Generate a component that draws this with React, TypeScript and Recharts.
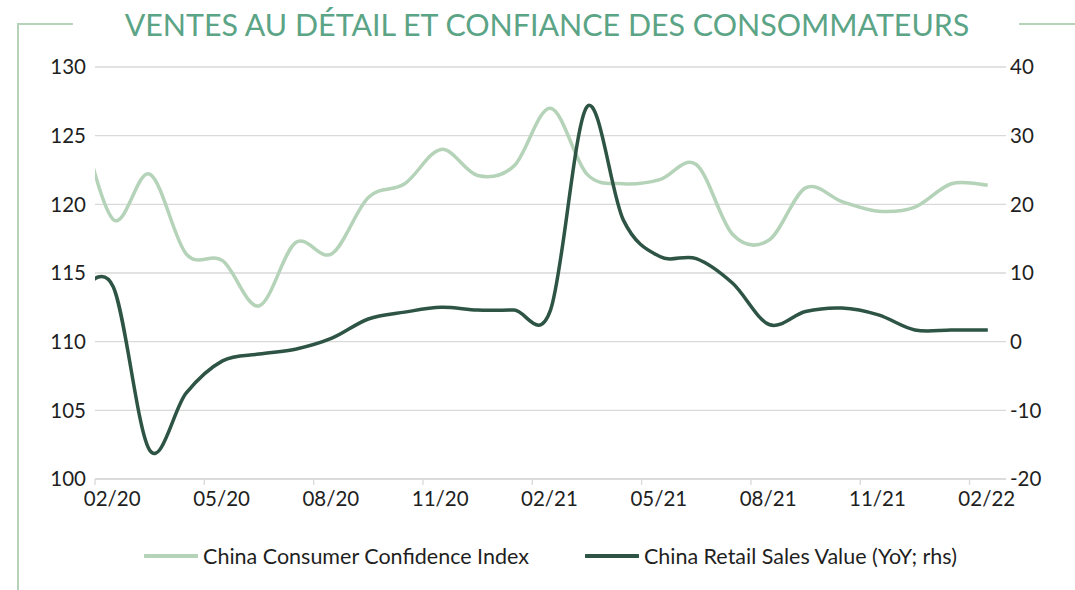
import React from 'react';
import { LineChart, Line, XAxis, YAxis, CartesianGrid, Legend } from 'recharts';

// monthly values, 01/20 .. 02/22 (01/20 sits just left of the plot and is clipped)
const months = [
  '01/20', '02/20', '03/20', '04/20', '05/20', '06/20', '07/20', '08/20', '09/20', '10/20', '11/20', '12/20',
  '01/21', '02/21', '03/21', '04/21', '05/21', '06/21', '07/21', '08/21', '09/21', '10/21', '11/21', '12/21',
  '01/22', '02/22',
];
const confidence = [
  127.1, 118.9, 122.2, 116.4, 115.9, 112.6, 117.2, 116.4, 120.5, 121.5, 124.0, 122.1,
  122.8, 127.0, 122.2, 121.5, 121.8, 122.9, 117.8, 117.4, 121.2, 120.2, 119.5, 119.8,
  121.5, 121.4,
];
const retailSales = [
  7.0, 8.0, -15.8, -7.5, -2.8, -1.8, -1.1, 0.5, 3.3, 4.3, 5.0, 4.6,
  4.6, 4.6, 34.2, 17.7, 12.4, 12.1, 8.5, 2.5, 4.4, 4.9, 3.9, 1.7,
  1.7, 1.7,
];
const seriesNames = ['China Consumer Confidence Index', 'China Retail Sales Value (YoY; rhs)'];
const xTicks = [0, 3, 6, 9, 12, 15, 18, 21, 24];
const leftTicks = [100, 105, 110, 115, 120, 125, 130];
const rightTicks = [-20, -10, 0, 10, 20, 30, 40];

const W = 1075;
const H = 590;
const LEFT_W = 95;
const RIGHT_W = 69;
const N_SLOTS = 25;
const HALF_SLOT = (W - LEFT_W - RIGHT_W) / N_SLOTS / 2;

const LIGHT = '#b5d3b8';
const DARK = '#2d5444';
const TITLE = '#5ba486';
const GRID = '#d9d9d9';
const TEXT = '#1f1f1f';

// each month sits in the middle of its slot
const data = months.map((m, i) => ({ pos: i - 0.5, label: m, cc: confidence[i], rs: retailSales[i] }));

// excel-like smoothed line (catmull-rom style bezier)
function excelSmooth(context: any) {
  let pts: number[][] = [];
  return {
    areaStart() {},
    areaEnd() {},
    lineStart() { pts = []; },
    point(x: number, y: number) { pts.push([+x, +y]); },
    lineEnd() {
      const n = pts.length;
      if (!n) return;
      context.moveTo(pts[0][0], pts[0][1]);
      for (let i = 0; i < n - 1; i++) {
        const p0 = pts[Math.max(i - 1, 0)];
        const p1 = pts[i];
        const p2 = pts[i + 1];
        const p3 = pts[Math.min(i + 2, n - 1)];
        context.bezierCurveTo(
          p1[0] + (p2[0] - p0[0]) / 6, p1[1] + (p2[1] - p0[1]) / 6,
          p2[0] - (p3[0] - p1[0]) / 6, p2[1] - (p3[1] - p1[1]) / 6,
          p2[0], p2[1],
        );
      }
    },
  };
}

const MonthTick = (props: any) => {
  const { x, y, payload } = props;
  return (
    <text x={x + HALF_SLOT - 1} y={y} dy="0.71em" textAnchor="middle" fill={TEXT} fontSize={20.5}>
      {months[payload.value + 1]}
    </text>
  );
};

const LegendContent = () => (
  <div style={{ height: 40, display: 'flex', justifyContent: 'center', alignItems: 'center', gap: 56, fontSize: 21.5, color: TEXT, paddingLeft: 26 }}>
    {seriesNames.map((name, i) => (
      <div key={name} style={{ display: 'flex', alignItems: 'center' }}>
        <svg width={54} height={6} style={{ marginRight: 5 }}>
          <line x1={1} y1={3} x2={53} y2={3} stroke={i === 0 ? LIGHT : DARK} strokeWidth={4} strokeLinecap="round" />
        </svg>
        <span>{name}</span>
      </div>
    ))}
  </div>
);

export default function App() {
  return (
    <div style={{ position: 'relative', width: W, height: H, background: '#fff', fontFamily: 'Lato, "Open Sans", sans-serif', overflow: 'hidden' }}>
      <style>{'body{margin:0}'}</style>
      <div style={{ position: 'absolute', left: 17, top: 23, width: 2, height: H, background: LIGHT }} />
      <div style={{ position: 'absolute', left: 17, top: 23, width: 56, height: 2, background: LIGHT }} />
      <div style={{ position: 'absolute', left: 1019, top: 23, width: 56, height: 2, background: LIGHT }} />
      <div style={{ position: 'absolute', left: 0, top: 4, width: 1094, textAlign: 'center', fontSize: 30.4, fontWeight: 400, color: TITLE, lineHeight: '40px' }}>
        VENTES AU DÉTAIL ET CONFIANCE DES CONSOMMATEURS
      </div>
      <LineChart width={W} height={H} data={data} margin={{ top: 67, right: 0, left: 0, bottom: 14 }}>
        <CartesianGrid vertical={false} stroke={GRID} strokeWidth={1.3} yAxisId="left" />
        <XAxis
          dataKey="pos"
          type="number"
          domain={[0, N_SLOTS]}
          allowDataOverflow
          ticks={xTicks}
          interval={0}
          height={57}
          axisLine={{ stroke: GRID, strokeWidth: 1.3 }}
          tickLine={{ stroke: GRID, strokeWidth: 1.3 }}
          tickSize={6}
          tickMargin={6}
          tick={<MonthTick />}
        />
        <YAxis
          yAxisId="left"
          domain={[100, 130]}
          ticks={leftTicks}
          width={LEFT_W}
          axisLine={false}
          tickLine={false}
          tickSize={0}
          tickMargin={9}
          tick={{ fill: TEXT, fontSize: 20.5 }}
        />
        <YAxis
          yAxisId="right"
          orientation="right"
          domain={[-20, 40]}
          ticks={rightTicks}
          width={RIGHT_W}
          axisLine={false}
          tickLine={false}
          tickSize={0}
          tickMargin={4}
          tick={{ fill: TEXT, fontSize: 20.5, textAnchor: 'start' }}
        />
        <Legend verticalAlign="bottom" content={<LegendContent />} />
        <Line yAxisId="left" dataKey="cc" name={seriesNames[0]} type={excelSmooth as any} stroke={LIGHT} strokeWidth={3.5} dot={false} isAnimationActive={false} />
        <Line yAxisId="right" dataKey="rs" name={seriesNames[1]} type={excelSmooth as any} stroke={DARK} strokeWidth={3.5} dot={false} isAnimationActive={false} />
      </LineChart>
    </div>
  );
}
